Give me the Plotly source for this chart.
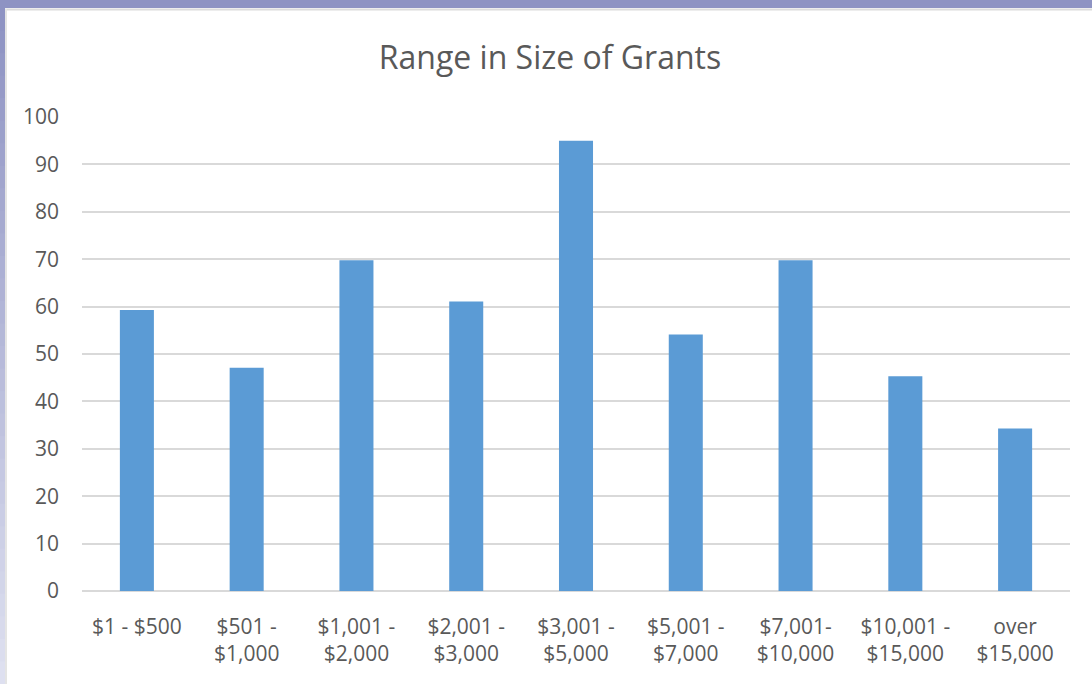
import plotly.graph_objects as go

categories = ["$1 - $500", "$501 -<br>$1,000", "$1,001 -<br>$2,000", "$2,001 -<br>$3,000",
              "$3,001 -<br>$5,000", "$5,001 -<br>$7,000", "$7,001-<br>$10,000",
              "$10,001 -<br>$15,000", "over<br>$15,000"]
values = [59.3, 47.1, 69.8, 61.1, 95.0, 54.1, 69.8, 45.3, 34.3]
y_ticks = list(range(0, 101, 10))

W, H = 1092, 684
L, R, T, B = 82, 22, 117, 93
pw, ph = W - L - R, H - T - B

def px_x(p):
    return (p - L) / pw

def px_y(p):
    return (H - B - p) / ph

fig = go.Figure(go.Bar(x=categories, y=values, marker=dict(color="#5b9bd5", line=dict(width=0))))

shapes = []
# top band
shapes.append(dict(type="rect", xref="paper", yref="paper", x0=px_x(0), x1=px_x(W), y0=px_y(0), y1=px_y(8),
                   fillcolor="#8e93c3", line=dict(width=0), layer="below"))
# left gradient
n = 30
top_c = (142, 147, 195)
bot_c = (222, 224, 240)
for i in range(n):
    t = i / (n - 1)
    c = tuple(int(top_c[k] + (bot_c[k] - top_c[k]) * t) for k in range(3))
    y0p = 8 + (H - 8) * i / n
    y1p = 8 + (H - 8) * (i + 1) / n + 1
    shapes.append(dict(type="rect", xref="paper", yref="paper", x0=px_x(0), x1=px_x(5),
                       y0=px_y(y0p), y1=px_y(y1p), fillcolor="rgb(%d,%d,%d)" % c,
                       line=dict(width=0), layer="below"))
# inner light border lines
shapes.append(dict(type="line", xref="paper", yref="paper", x0=px_x(5), x1=px_x(W), y0=px_y(9.5), y1=px_y(9.5),
                   line=dict(color="#dcdcdc", width=2)))
shapes.append(dict(type="line", xref="paper", yref="paper", x0=px_x(6), x1=px_x(6), y0=px_y(9), y1=px_y(H),
                   line=dict(color="#e4e4e4", width=2)))

fig.update_layout(
    width=W, height=H,
    margin=dict(l=L, r=R, t=T, b=B),
    paper_bgcolor="white", plot_bgcolor="white",
    shapes=shapes,
    bargap=0.69,
    showlegend=False,
    title=dict(text="Range in Size of Grants", x=550 / W, xref="container", xanchor="center",
               y=(H - 58) / H, yanchor="middle",
               font=dict(family="Open Sans, Lato, sans-serif", size=32, color="#595959")),
    font=dict(family="Open Sans, Lato, sans-serif", color="#595959"),
    xaxis=dict(showgrid=False, showline=False, ticks="", tickfont=dict(size=21, color="#595959"),
               ticklabelstandoff=21, fixedrange=True),
    yaxis=dict(range=[0, 100], tickvals=y_ticks, showgrid=True, gridcolor="#d9d9d9", gridwidth=1.5,
               zeroline=True, zerolinecolor="#d9d9d9", zerolinewidth=1.5, showline=False, ticks="",
               tickfont=dict(size=21, color="#595959"), ticklabelstandoff=22, fixedrange=True),
)

fig.write_html("out.html", config={"displayModeBar": False},
               post_script="document.body.style.margin='0';document.body.style.overflow='hidden';")
